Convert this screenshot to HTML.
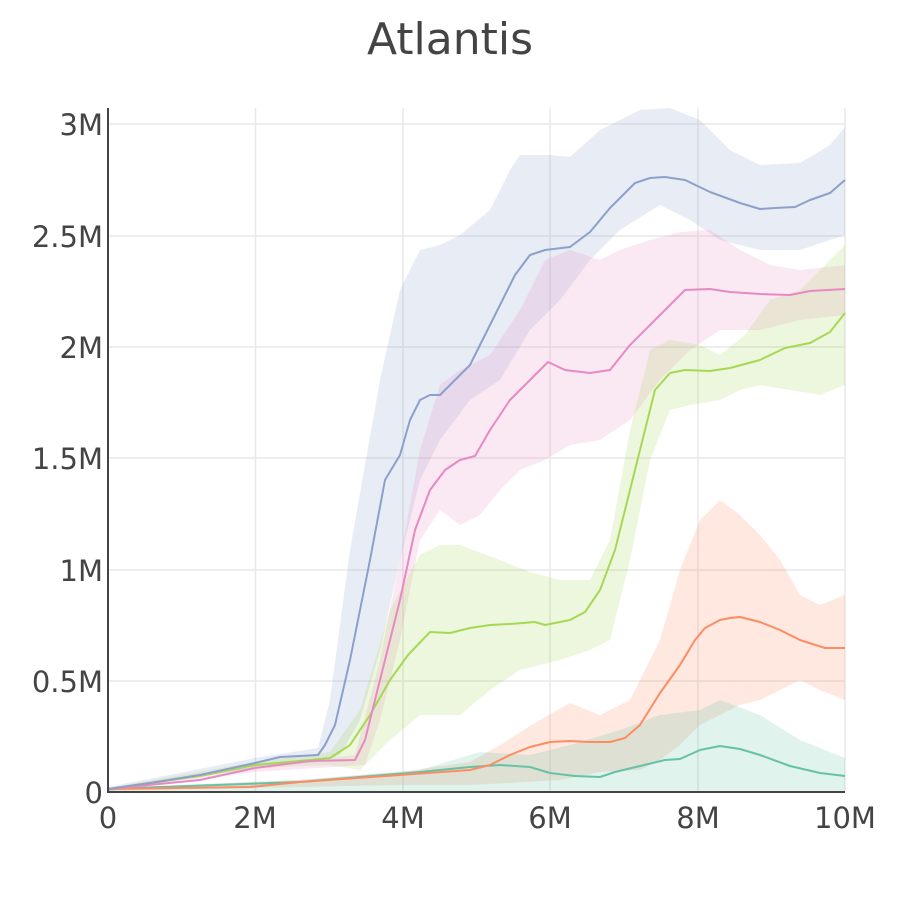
<!DOCTYPE html>
<html><head><style>body{margin:0;background:#fff}svg{display:block}text{font-family:"DejaVu Sans",sans-serif;fill:#444}</style></head>
<body>
<svg width="900" height="900" viewBox="0 0 900 900">
<text x="450" y="54" font-size="44" text-anchor="middle">Atlantis</text>
<g stroke="#e8e8e8" stroke-width="1.5">
<line x1="255.5" y1="108" x2="255.5" y2="792"/><line x1="403" y1="108" x2="403" y2="792"/><line x1="550" y1="108" x2="550" y2="792"/><line x1="698" y1="108" x2="698" y2="792"/><line x1="845" y1="108" x2="845" y2="792"/>
<line x1="108" y1="681" x2="845" y2="681"/><line x1="108" y1="570" x2="845" y2="570"/><line x1="108" y1="458" x2="845" y2="458"/><line x1="108" y1="347" x2="845" y2="347"/><line x1="108" y1="236" x2="845" y2="236"/><line x1="108" y1="124" x2="845" y2="124"/>
</g>
<g stroke="none">
<polygon fill="rgba(141,160,203,0.2)" points="108,787 255,758 318,748 330,700 350,550 380,380 400,290 420,250 440,245 460,235 490,210 510,170 520,155 550,155 570,157 600,130 640,110 670,108 700,120 730,150 760,165 800,163 830,145 845,127 845,235 800,250 760,250 720,240 690,220 660,205 620,230 590,260 560,300 530,330 500,380 470,400 440,440 420,480 400,560 380,650 360,720 340,755 318,762 255,768 108,791"/>
<polygon fill="rgba(231,138,195,0.2)" points="108,788 255,765 355,755 380,660 400,560 420,450 440,385 460,370 490,355 520,310 545,260 570,250 600,260 620,250 650,240 680,232 710,230 740,250 770,265 800,270 845,265 845,315 800,320 760,330 720,330 690,350 660,380 630,420 600,440 570,445 545,460 520,470 500,490 480,515 460,525 440,510 420,540 400,640 380,720 365,765 255,772 108,791"/>
<polygon fill="rgba(166,216,84,0.2)" points="108,788 255,762 330,752 360,710 390,610 420,555 440,545 460,545 500,560 530,572 560,580 590,580 610,540 630,430 650,350 670,340 700,345 720,355 745,335 770,300 800,290 820,270 845,245 845,385 820,395 790,390 760,385 740,390 720,400 690,405 670,410 650,460 630,560 610,640 590,650 560,660 520,670 490,690 460,715 420,715 390,740 360,770 330,765 255,768 108,791"/>
<polygon fill="rgba(252,141,98,0.2)" points="108,788 300,780 400,772 470,762 500,745 540,720 570,703 600,715 630,700 660,640 680,570 700,520 720,500 740,515 760,535 780,560 800,595 820,605 845,595 845,700 820,690 800,680 780,690 760,700 740,705 720,715 700,725 680,745 660,760 640,770 600,772 560,780 510,783 470,785 400,785 108,791"/>
<polygon fill="rgba(102,194,165,0.2)" points="108,788 300,780 420,770 480,752 530,755 570,745 620,730 660,715 700,710 720,700 760,715 800,740 845,758 845,792 108,792"/>
</g>
<g fill="none" stroke-width="2" stroke-linejoin="round">
<polyline stroke="#66c2a5" points="108,789 300,782 420,772 470,767 500,765 530,767 550,773 575,776 600,777 615,772 640,766 665,760 680,759 700,750 720,746 740,749 760,755 790,766 820,773 845,776"/>
<polyline stroke="#fc8d62" points="108,789 250,787 300,782 400,775 470,770 490,765 510,755 530,747 550,742 570,741 590,742 610,742 625,738 640,725 660,693 680,665 695,640 705,628 720,620 730,618 740,617 760,622 780,630 800,640 825,648 845,648"/>
<polyline stroke="#a6d854" points="108,789 200,776 255,765 310,760 330,758 350,745 370,715 390,680 408,655 430,632 450,633 470,628 490,625 510,624 535,622 545,625 570,620 585,612 600,590 615,550 635,470 655,390 670,373 685,370 710,371 730,368 760,360 785,348 810,343 830,332 845,313"/>
<polyline stroke="#e78ac3" points="108,789 200,780 255,768 310,761 355,760 365,740 380,680 400,600 415,530 430,490 445,470 460,460 475,456 490,430 510,400 530,380 548,362 565,370 590,373 610,370 630,345 660,315 685,290 710,289 730,292 760,294 790,295 810,291 845,289"/>
<polyline stroke="#8da0cb" points="108,789 150,783 200,775 255,763 280,757 318,755 325,745 335,725 350,660 370,560 385,480 400,455 410,420 420,400 430,395 440,395 455,380 470,365 490,325 515,275 530,255 545,250 570,247 590,232 610,208 635,183 650,178 665,177 685,180 710,192 740,203 760,209 775,208 795,207 810,200 830,193 845,180"/>
</g>
<line x1="108" y1="108" x2="108" y2="793" stroke="#444" stroke-width="2"/>
<line x1="107" y1="792" x2="845" y2="792" stroke="#444" stroke-width="2"/>
<g font-size="29" text-anchor="end">
<text x="103" y="803">0</text><text x="103" y="692">0.5M</text><text x="103" y="581">1M</text><text x="103" y="469">1.5M</text><text x="103" y="358">2M</text><text x="103" y="247">2.5M</text><text x="103" y="135">3M</text>
</g>
<g font-size="29" text-anchor="middle">
<text x="108" y="828">0</text><text x="255" y="828">2M</text><text x="403" y="828">4M</text><text x="550" y="828">6M</text><text x="698" y="828">8M</text><text x="845" y="828">10M</text>
</g>
</svg>
</body></html>
